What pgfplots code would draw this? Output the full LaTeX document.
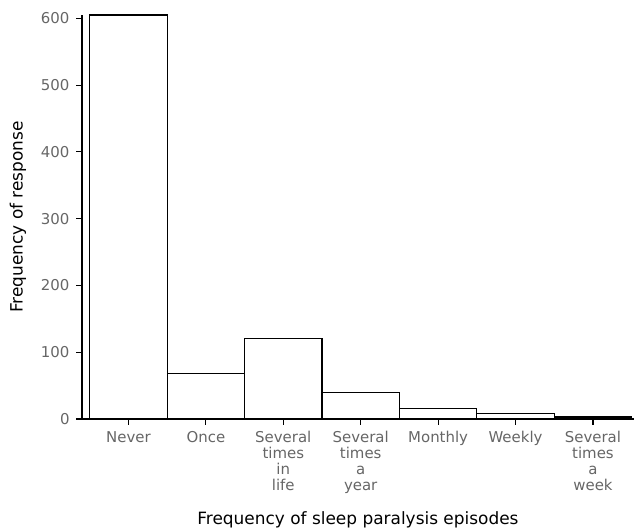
\documentclass[border=0pt]{standalone}
\usepackage{pgfplots}
\pgfplotsset{compat=1.18}
\usepackage{fontspec}
\setmainfont{DejaVu Sans}
\definecolor{ticktext}{HTML}{666666}
\begin{document}
\begin{tikzpicture}
\begin{axis}[
  scale only axis,
  width=552bp, height=404bp,
  xmin=-0.6, xmax=6.53,
  ymin=0, ymax=605,
  axis x line*=bottom, axis y line*=left,
  axis line style={line width=1.2pt, -},
  xtick={0,...,6},
  xticklabels={Never,Once,{Several\\times\\in\\life},{Several\\times\\a\\year},Monthly,Weekly,{Several\\times\\a\\week}},
  xticklabel style={align=center, text=ticktext, font=\fontsize{15}{16}\selectfont, anchor=north, yshift=-3pt},
  ytick={0,100,...,600},
  yticklabel style={text=ticktext, font=\fontsize{15}{16}\selectfont, xshift=-3pt},
  /pgf/number format/assume math mode=true,
  xtick style={black, line width=1.2pt},
  ytick style={black, line width=1.2pt},
  tick align=outside,
  major tick length=6pt,
  xlabel={Frequency of sleep paralysis episodes},
  ylabel={Frequency of response},
  label style={font=\fontsize{17}{19}\selectfont},
  xlabel style={at={(axis description cs:0.5,-0.25)}, anchor=center},
  ylabel style={at={(axis description cs:-0.116,0.5)}, anchor=center},
  ybar, bar width=1, bar shift=0pt,
]
\addplot[ybar, fill=white, draw=black, line width=1.2pt] coordinates {
  (0,605) (1,68) (2,120) (3,40) (4,16) (5,8.5) (6,3)
};
\end{axis}
\pgfresetboundingbox
\path ([xshift=-82bp,yshift=-113bp]current axis.south west) rectangle ([xshift=1bp,yshift=15bp]current axis.north east);
\end{tikzpicture}
\end{document}
